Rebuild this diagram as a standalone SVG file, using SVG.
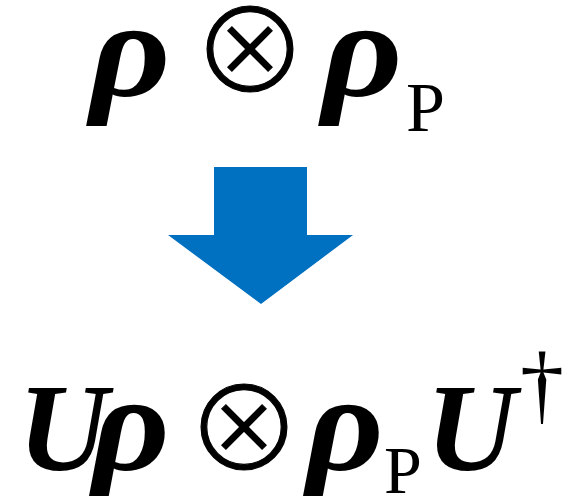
<svg xmlns="http://www.w3.org/2000/svg" width="568" height="496" viewBox="0 0 568 496">
<style>
.bi{font-family:"Liberation Serif","Times New Roman",serif;font-weight:bold;font-style:italic;fill:#000}
.rho{font-size:140px}
.r{font-family:"Liberation Serif","Times New Roman",serif;fill:#000}
.op{font-family:"Noto Sans CJK JP","DejaVu Sans",sans-serif;font-weight:300;fill:#000;stroke:#000;stroke-width:1.2px;text-anchor:middle;font-size:116px}
</style>
<rect width="568" height="496" fill="#fff"/>
<g id="top">
<text class="bi rho" transform="translate(90,96) scale(1.12,1)">ρ</text>
<text class="op" x="250" y="93">⊗</text>
<text class="bi rho" transform="translate(322,96) scale(1.12,1)">ρ</text>
<text class="r" x="406" y="131" font-size="70">P</text>
</g>
<g id="connectors">
<polygon points="214,167 307,167 307,235 353,235 261,304 168,235 214,235" fill="#0070C0"/>
</g>
<g id="bottom">
<text class="bi" x="18" y="470" font-size="125">U</text>
<text class="bi rho" transform="translate(92,470) scale(1.08,1)">ρ</text>
<text class="op" x="244" y="471">⊗</text>
<text class="bi rho" transform="translate(306,470) scale(1.08,1)">ρ</text>
<text class="r" x="384" y="493" font-size="68">P</text>
<text class="bi" x="426" y="470" font-size="125">U</text>
<text class="r" x="520" y="414" font-size="88">†</text>
</g>
</svg>
